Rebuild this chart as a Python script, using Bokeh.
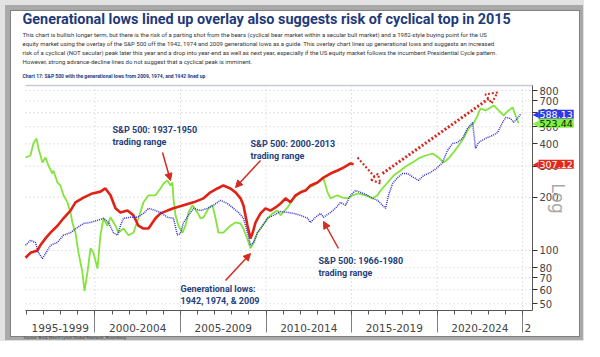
import math
from bokeh.plotting import figure
from bokeh.models import Range1d, FixedTicker, Label, Arrow, NormalHead
from bokeh.embed import file_html
from bokeh.resources import INLINE

# ---------------- data ----------------
red_years = [1995.94, 1996.23, 1996.64, 1996.81, 1997.11, 1997.40, 1997.81, 1998.16, 1998.57, 1998.86,
             1999.33, 1999.85, 2000.32, 2000.61, 2000.91, 2001.20, 2001.49, 2001.90, 2002.25, 2002.54,
             2002.84, 2003.13, 2003.54, 2003.83, 2004.24, 2004.59, 2005.18, 2005.76, 2006.35, 2006.75,
             2007.16, 2007.51, 2007.92, 2008.22, 2008.51, 2008.68, 2008.92, 2009.09, 2009.21, 2009.39,
             2009.68, 2009.97, 2010.26, 2010.56, 2010.85, 2011.14, 2011.43, 2011.73, 2012.02, 2012.31,
             2012.60, 2013.01, 2013.36, 2013.77, 2014.18, 2014.53, 2014.94, 2015.12]
red_values = [91, 97, 100, 107, 117, 126, 138, 152, 168, 187,
              199, 210, 215, 224, 205, 173, 164, 168, 158, 138,
              133, 133, 152, 162, 168, 173, 180, 187, 197, 213,
              224, 233, 224, 213, 197, 180, 138, 117, 125, 144,
              162, 173, 168, 175, 184, 197, 187, 205, 213, 218,
              233, 242, 258, 272, 283, 294, 310, 307.12]

green_years = [1995.94, 1996.23, 1996.40, 1996.58, 1996.70, 1996.93, 1997.11, 1997.28, 1997.51, 1997.57,
               1997.81, 1997.98, 1998.16, 1998.39, 1998.57, 1998.68, 1998.86, 1999.04, 1999.27, 1999.39,
               1999.56, 1999.74, 1999.91, 2000.15, 2000.32, 2000.50, 2000.73, 2000.91, 2001.20, 2001.37,
               2001.67, 2001.96, 2002.25, 2002.54, 2002.84, 2003.13, 2003.54, 2003.83, 2004.01, 2004.24,
               2004.42, 2004.53, 2004.59, 2004.71, 2004.88, 2005.12, 2005.29, 2005.47, 2005.70, 2005.99,
               2006.17, 2006.35, 2006.64, 2006.87, 2007.05, 2007.22, 2007.51, 2007.92, 2008.22, 2008.51,
               2008.68, 2008.98, 2009.09, 2009.27, 2009.50, 2009.80, 2010.09, 2010.38, 2010.67, 2010.85,
               2011.26, 2011.61, 2012.02, 2012.43, 2012.78, 2013.19, 2013.36, 2013.60, 2013.77, 2014.18,
               2014.47, 2014.77, 2015.06, 2015.41, 2015.82, 2016.23, 2016.52, 2016.70, 2017.11, 2017.46,
               2017.87, 2018.16, 2018.45, 2018.57, 2018.92, 2019.33, 2019.74, 2020.09, 2020.38, 2020.67,
               2020.96, 2021.26, 2021.55, 2021.84, 2022.13, 2022.37, 2022.54, 2022.84, 2023.13, 2023.31,
               2023.60, 2023.89, 2024.18, 2024.42, 2024.59, 2024.77]
green_values = [335, 344, 402, 430, 377, 314, 335, 302, 272, 283,
                242, 233, 205, 187, 164, 144, 126, 97, 75, 59,
                75, 103, 97, 79, 122, 152, 138, 154, 138, 126,
                133, 122, 126, 152, 187, 205, 205, 224, 239, 249,
                233, 242, 197, 158, 138, 126, 138, 164, 180, 164,
                152, 154, 173, 180, 152, 126, 126, 138, 144, 142,
                133, 111, 103, 110, 126, 138, 152, 162, 168, 158,
                175, 197, 213, 224, 233, 249, 255, 213, 197, 205,
                199, 197, 205, 210, 205, 197, 205, 218, 242, 265,
                283, 298, 310, 314, 331, 344, 353, 335, 314, 331,
                358, 392, 430, 489, 522, 579, 634, 618, 643, 660,
                618, 579, 618, 643, 579, 523.44]

blue_years = [1995.94, 1996.23, 1996.52, 1996.70, 1996.93, 1997.11, 1997.40, 1997.81, 1998.16, 1998.57,
              1998.98, 1999.33, 1999.74, 2000.15, 2000.50, 2000.79, 2001.08, 2001.32, 2001.49, 2001.67,
              2002.08, 2002.49, 2002.84, 2003.13, 2003.54, 2003.83, 2004.24, 2004.59, 2004.82, 2005.00,
              2005.18, 2005.47, 2005.76, 2006.17, 2006.58, 2006.93, 2007.34, 2007.75, 2008.10, 2008.39,
              2008.68, 2008.92, 2009.09, 2009.27, 2009.50, 2009.80, 2010.09, 2010.44, 2010.85, 2011.26,
              2011.61, 2012.02, 2012.43, 2012.60, 2012.89, 2013.19, 2013.36, 2013.77, 2014.06, 2014.36,
              2014.65, 2014.94, 2015.23, 2015.53, 2015.94, 2016.23, 2016.52, 2016.81, 2016.99, 2017.16,
              2017.40, 2017.69, 2017.98, 2018.27, 2018.45, 2018.74, 2018.92, 2019.21, 2019.62, 2020.03,
              2020.32, 2020.61, 2020.91, 2021.20, 2021.49, 2021.78, 2022.08, 2022.13, 2022.25, 2022.43,
              2022.84, 2023.25, 2023.54, 2023.83, 2024.01, 2024.30, 2024.47, 2024.71, 2024.88]
blue_values = [107, 114, 111, 97, 90, 96, 107, 111, 122, 126,
               135, 142, 144, 148, 152, 144, 126, 122, 138, 152,
               154, 154, 162, 173, 168, 164, 154, 152, 122, 125,
               144, 158, 173, 168, 173, 180, 192, 184, 173, 164,
               152, 126, 107, 111, 126, 138, 152, 158, 166, 164,
               162, 158, 152, 144, 154, 162, 154, 164, 173, 187,
               180, 205, 218, 213, 205, 197, 192, 180, 173, 205,
               239, 258, 272, 272, 265, 255, 249, 265, 276, 294,
               314, 367, 402, 408, 430, 489, 529, 477, 377, 408,
               430, 447, 464, 529, 564, 557, 529, 557, 588.13]

y_ticks = [50, 60, 70, 80, 100, 200, 300, 400, 500, 600, 700, 800]
period_starts = [1995, 2000, 2005, 2010, 2015, 2020, 2025]
period_labels = ["1995-1999", "2000-2004", "2005-2009", "2010-2014", "2015-2019", "2020-2024", "2"]

title_text = "Generational lows lined up overlay also suggests risk of cyclical top in 2015"
para_lines = [
    "This chart is bullish longer term, but there is the risk of a parting shot from the bears (cyclical bear market within a secular bull market) and a 1982-style buying point for the US",
    "equity market using the overlay of the S&P 500 off the 1942, 1974 and 2009 generational lows as a guide. This overlay chart lines up generational lows and suggests an increased",
    "risk of a cyclical (NOT secular) peak later this year and a drop into year-end as well as next year, especially if the US equity market follows the incumbent Presidential Cycle pattern.",
    "However, strong advance-decline lines do not suggest that a cyclical peak is imminent.",
]
caption_text = "Chart 17: S&P 500 with the generational lows from 2009, 1974, and 1942 lined up"
source_text = "Source: BofA Merrill Lynch Global Research, Bloomberg"

# ---------------- layout (canvas pixel positions) ----------------
W, H = 584, 341
X_START, X_END = 1995.94, 2025.58       # visible chart span
Y_START, Y_END = 45.8, 855.0            # visible chart value span (log)
FL, FR, FT, FB = 25, 532, 85, 310       # chart box on the canvas (px)

def px_x(px):
    return X_START + (px - FL) / (FR - FL) * (X_END - X_START)

def px_y(py):
    l0, l1 = math.log10(Y_START), math.log10(Y_END)
    return 10 ** (l1 - (py - FT) / (FB - FT) * (l1 - l0))

# the frame covers the whole canvas; the axes are pinned to the chart box
p = figure(width=W, height=H, x_range=Range1d(px_x(0), px_x(W)), y_range=Range1d(px_y(H), px_y(0)),
           y_axis_type="log", y_axis_location="right", output_backend="svg", toolbar_location=None,
           min_border=0, min_border_left=0, min_border_right=0, min_border_top=0, min_border_bottom=0)
p.outline_line_color = None
p.background_fill_color = None
p.border_fill_color = None
p.grid.visible = False
p.styles = {
    "background-color": "white",
    "box-shadow": ("inset 2px 2px 0 3px #e2e2e2, inset 3px 3px 0 7px #a9a9a9, "
                   "inset 3px 3px 0 8px #808080"),
}

# right log axis
ya = p.yaxis[0]
ya.fixed_location = X_END
ya.bounds = (Y_START, Y_END)
ya.ticker = FixedTicker(ticks=y_ticks, minor_ticks=[])
ya.major_tick_out = 5
ya.major_tick_in = 0
ya.major_tick_line_color = "#333333"
ya.axis_line_color = "#555555"
ya.major_label_text_font = "DejaVu Sans"
ya.major_label_text_font_size = "10px"
ya.major_label_text_color = "#444444"
ya.major_label_standoff = 2
ya.major_label_overrides = {t: str(t) for t in y_ticks}

# bottom axis: period dividers + yearly minor ticks
xa = p.xaxis[0]
bounds = period_starts[1:]
xa.fixed_location = Y_START
xa.bounds = (X_START, X_END)
xa.ticker = FixedTicker(ticks=bounds, minor_ticks=list(range(1996, 2026)))
xa.major_tick_out = 22
xa.major_tick_in = 0
xa.minor_tick_out = 4
xa.minor_tick_in = 0
xa.major_tick_line_color = "#808080"
xa.minor_tick_line_color = "#555555"
xa.axis_line_color = "#555555"
xa.major_label_text_font_size = "1px"
xa.major_label_standoff = 0
xa.major_label_overrides = {b: "" for b in bounds}

# dotted grid restricted to the chart box
p.segment(x0=[X_START] * len(y_ticks), x1=[X_END] * len(y_ticks), y0=y_ticks, y1=y_ticks,
          line_color="#c8c8c8", line_dash="1 3", line_width=1)
p.segment(x0=bounds, x1=bounds, y0=[Y_START] * len(bounds), y1=[Y_END] * len(bounds),
          line_color="#c8c8c8", line_dash="1 3", line_width=1)
# light top rule of the chart box
p.segment(x0=[X_START], x1=[X_END], y0=[Y_END], y1=[Y_END], line_color="#c5ccd8", line_width=1.5)

# series
p.line(green_years, green_values, line_color="#84e33c", line_width=1.8)
p.line(red_years, red_values, line_color="#df2116", line_width=2.6)
p.line(blue_years, blue_values, line_color="#2f2fd2", line_width=1.5, line_dash="1 1")

def txt(x, y, s, size, color, style="normal", font="Roboto", align="left",
        baseline="middle", angle=0.0, **kw):
    p.add_layout(Label(x=px_x(x), y=px_y(y), text=s, text_font=font, text_font_size=f"{size}px",
                       text_color=color, text_font_style=style, text_align=align,
                       text_baseline=baseline, angle=angle, **kw))

# header
NAVY = "#1f3a7a"
txt(22, 19, title_text, 14.4, NAVY, style="bold")
for i, line in enumerate(para_lines):
    txt(22, 34 + 9 * i, line, 6.0, "#333333")
txt(22, 75, caption_text, 5.0, NAVY, style="bold")

# period labels + source
for start, lab in zip(period_starts, period_labels):
    if lab == "2":
        txt(524, 327, lab, 10.5, "#444444", font="DejaVu Sans")
        continue
    a = max(start, X_START)
    b = min(start + 5, X_END)
    p.add_layout(Label(x=(a + b) / 2, y=px_y(327), text=lab, text_font="DejaVu Sans", text_font_size="10.5px",
                       text_color="#444444", text_align="center", text_baseline="middle"))
txt(23, 337, source_text, 4.2, "#444444")

# annotations inside the plot
ANN = "#253f7c"
txt(112, 129, "S&P 500: 1937-1950", 9, ANN, style="bold")
txt(112, 141, "trading range", 9, ANN, style="bold")
txt(250, 143, "S&P 500: 2000-2013", 9, ANN, style="bold")
txt(250, 155, "trading range", 9, ANN, style="bold")
txt(180, 288, "Generational lows:", 9, ANN, style="bold")
txt(180, 300, "1942, 1974, & 2009", 9, ANN, style="bold")
txt(318, 260, "S&P 500: 1966-1980", 9, ANN, style="bold")
txt(318, 272, "trading range", 9, ANN, style="bold")

ARROW = "#d42a20"
def arrow(x0, y0, x1, y1, width=1.5, dash="solid", head=7):
    p.add_layout(Arrow(x_start=px_x(x0), y_start=px_y(y0), x_end=px_x(x1), y_end=px_y(y1),
                       line_color=ARROW, line_width=width, line_dash=dash,
                       end=NormalHead(size=head, fill_color=ARROW, line_color=ARROW)))

arrow(162, 152, 170, 180)
arrow(260, 160, 235, 187)
arrow(225, 280, 250, 253)
arrow(338, 248, 323, 221)
p.add_layout(Arrow(x_start=px_x(357), y_start=px_y(157), x_end=px_x(380), y_end=px_y(183),
                   line_color=ARROW, line_width=2, line_dash="2 2",
                   end=NormalHead(size=9, fill_color=None, line_color=ARROW, line_width=2, line_dash="2 2")))
p.add_layout(Arrow(x_start=px_x(382), y_start=px_y(173), x_end=px_x(497), y_end=px_y(92),
                   line_color=ARROW, line_width=3, line_dash="2 2",
                   end=NormalHead(size=11, fill_color=None, line_color=ARROW, line_width=2, line_dash="2 2")))

# last-value tags
tags = [(blue_values[-1], "#2f3ae6", "white"),
        (green_values[-1], "#7ef03e", "#102010"),
        (red_values[-1], "#e0281c", "white")]
for val, bg, fg in tags:
    p.add_layout(Label(x=px_x(532), y=val, text="\u25c0", text_font="DejaVu Sans", text_font_size="8px",
                       text_color=bg, text_baseline="middle", text_align="left"))
    p.add_layout(Label(x=px_x(538), y=val, text=f"{val:.2f}", text_font="DejaVu Sans", text_font_size="9.5px",
                       text_color=fg, text_baseline="middle", text_align="left",
                       background_fill_color=bg, padding=1))

# "Log" marker
txt(557, 198, "Log", 17, "#a8a8a8", font="DejaVu Sans", align="center", angle=-math.pi / 2)

open("out.html", "w").write(file_html(p, INLINE))
